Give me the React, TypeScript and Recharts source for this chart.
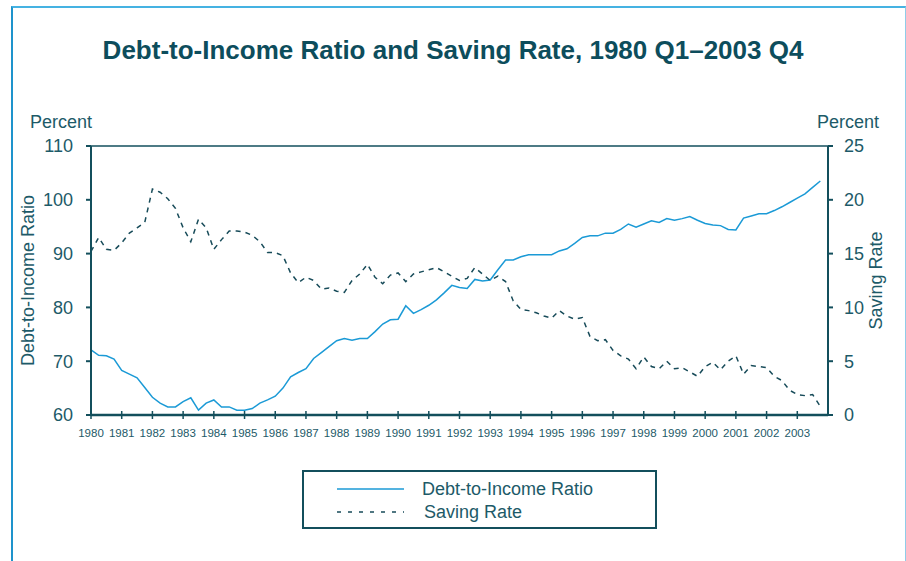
import { LineChart, Line, XAxis, YAxis, ReferenceLine } from "recharts";

// quarterly, 1980 Q1 .. 2003 Q4
const debtToIncome = [
  72.1, 71.1, 71.0, 70.4, 68.3, 67.6, 66.9, 65.1,
  63.3, 62.2, 61.5, 61.5, 62.5, 63.2, 60.9, 62.2,
  62.8, 61.5, 61.5, 60.9, 60.9, 61.2, 62.2, 62.8,
  63.5, 65.0, 67.1, 67.9, 68.6, 70.5, 71.6, 72.7,
  73.8, 74.2, 73.9, 74.2, 74.2, 75.5, 76.9, 77.7,
  77.8, 80.3, 78.9, 79.6, 80.4, 81.4, 82.7, 84.1,
  83.7, 83.5, 85.2, 84.9, 85.1, 87.0, 88.8, 88.8,
  89.4, 89.8, 89.8, 89.8, 89.8, 90.5, 90.9, 91.9,
  93.0, 93.3, 93.3, 93.8, 93.8, 94.5, 95.5, 94.9,
  95.5, 96.1, 95.8, 96.5, 96.2, 96.5, 96.9, 96.2,
  95.6, 95.3, 95.2, 94.5, 94.4, 96.6, 97.0, 97.4,
  97.4, 98.0, 98.7, 99.5, 100.3, 101.1, 102.3, 103.5,
];

const savingRate = [
  15.2, 16.5, 15.4, 15.3, 16.0, 16.9, 17.4, 17.9,
  21.0, 20.7, 20.1, 19.2, 17.4, 16.1, 18.2, 17.4,
  15.4, 16.3, 17.1, 17.1, 17.0, 16.7, 16.1, 15.1,
  15.1, 14.8, 13.2, 12.3, 12.8, 12.5, 11.7, 11.8,
  11.5, 11.4, 12.5, 13.1, 14.0, 12.8, 12.2, 13.0,
  13.2, 12.4, 13.1, 13.3, 13.5, 13.7, 13.3, 12.9,
  12.5, 12.7, 13.7, 13.1, 12.5, 12.9, 12.4, 10.6,
  9.8, 9.7, 9.5, 9.2, 9.0, 9.7, 9.2, 8.9,
  9.05, 7.3, 6.9, 7.0, 6.0, 5.5, 5.2, 4.3,
  5.4, 4.5, 4.3, 5.0, 4.3, 4.4, 4.0, 3.6,
  4.5, 4.9, 4.2, 5.0, 5.5, 3.8, 4.6, 4.5,
  4.4, 3.6, 3.2, 2.3, 1.9, 1.8, 1.9, 0.8,
];

const yearTicks = [
  1980, 1981, 1982, 1983, 1984, 1985, 1986, 1987, 1988, 1989, 1990, 1991,
  1992, 1993, 1994, 1995, 1996, 1997, 1998, 1999, 2000, 2001, 2002, 2003,
];
const leftTicks = [60, 70, 80, 90, 100, 110];
const rightTicks = [0, 5, 10, 15, 20, 25];

const data = debtToIncome.map((v, i) => ({
  t: 1980 + i / 4,
  debt: v,
  saving: savingRate[i],
}));

const FONT = "'Liberation Sans', Arial, sans-serif";
const TITLE = "#0d4d5c";
const TEXT = "#1d5a68";
const AXIS = "#134f5c";
const DEBT = "#1b9ad6";
const SAVING = "#174b59";

const XTick = (props: any) => {
  const { x, y, payload } = props;
  return (
    <g>
      <line x1={x} x2={x} y1={y - 4} y2={y + 4} stroke={AXIS} strokeWidth={1.5} />
      <text x={x} y={y + 22} textAnchor="middle" fontSize={11.5} fill={TEXT} fontFamily={FONT}>
        {payload.value}
      </text>
    </g>
  );
};

const legendItems = [
  { label: "Debt-to-Income Ratio", color: DEBT, dash: undefined },
  { label: "Saving Rate", color: SAVING, dash: "4 7" },
];

export default function App() {
  return (
    <div style={{ position: "absolute", left: 0, top: 0, width: 906, height: 561, background: "#fff", overflow: "hidden", fontFamily: FONT }}>
      {/* outer frame */}
      <div style={{ position: "absolute", left: 11, top: 6, width: 892, height: 620, borderLeft: "2px solid #1e93cc", borderTop: "2px solid #45b2e2", borderRight: "1px solid #8fcde9" }} />

      <div style={{ position: "absolute", left: 0, width: 906, top: 34, textAlign: "center", fontSize: 26, fontWeight: 700, color: TITLE, lineHeight: "32px" }}>
        Debt-to-Income Ratio and Saving Rate, 1980 Q1–2003 Q4
      </div>

      <div style={{ position: "absolute", left: 30, top: 111, fontSize: 18, color: TEXT, lineHeight: "22px" }}>Percent</div>
      <div style={{ position: "absolute", left: 817, top: 111, fontSize: 18, color: TEXT, lineHeight: "22px" }}>Percent</div>

      <div style={{ position: "absolute", left: 0, top: 0 }}>
        <LineChart width={906} height={561} data={data} margin={{ top: 146, right: 0, bottom: 126, left: 0 }}>
          <XAxis
            type="number"
            dataKey="t"
            domain={[1980, 2004]}
            ticks={yearTicks}
            interval={0}
            height={20}
            stroke={AXIS}
            strokeWidth={2.5}
            tickSize={0}
            tickMargin={0}
            tick={<XTick />}
          />
          <YAxis
            yAxisId="left"
            domain={[60, 110]}
            ticks={leftTicks}
            width={91}
            stroke={AXIS}
            strokeWidth={2}
            tickSize={5}
            tickMargin={13}
            tick={{ fill: TEXT, fontSize: 18, fontFamily: FONT }}
            label={{ value: "Debt-to-Income Ratio", angle: -90, position: "insideLeft", dx: 23, dy: 0, fill: TEXT, fontSize: 18, fontFamily: FONT, style: { textAnchor: "middle" } }}
          />
          <YAxis
            yAxisId="right"
            orientation="right"
            domain={[0, 25]}
            ticks={rightTicks}
            width={78}
            stroke={AXIS}
            strokeWidth={2}
            tickSize={5}
            tickMargin={11}
            tick={{ fill: TEXT, fontSize: 18, fontFamily: FONT, textAnchor: "start" }}
            label={{ value: "Saving Rate", angle: -90, position: "insideRight", dx: -25, fill: TEXT, fontSize: 18, fontFamily: FONT, style: { textAnchor: "middle" } }}
          />
          <ReferenceLine yAxisId="left" y={110} stroke={AXIS} strokeWidth={1.5} />
          <Line yAxisId="left" type="linear" dataKey="debt" stroke={DEBT} strokeWidth={1.5} dot={false} isAnimationActive={false} />
          <Line yAxisId="right" type="linear" dataKey="saving" stroke={SAVING} strokeWidth={1.5} strokeDasharray="5 5" dot={false} isAnimationActive={false} />
        </LineChart>
      </div>

      {/* legend */}
      <div style={{ position: "absolute", left: 302, top: 470, width: 351, height: 55, border: `2px solid ${AXIS}` }}>
        {legendItems.map((it, i) => (
          <div key={it.label} style={{ position: "absolute", left: 0, top: 6 + i * 23, height: 22, width: 351 }}>
            <svg width={80} height={22} style={{ position: "absolute", left: 32, top: 0 }}>
              <line x1={1} x2={68} y1={11} y2={11} stroke={it.color} strokeWidth={1.5} strokeDasharray={it.dash} />
            </svg>
            <span style={{ position: "absolute", left: 118 + i * 2, top: 0, fontSize: 18, lineHeight: "22px", color: TEXT, whiteSpace: "nowrap" }}>
              {it.label}
            </span>
          </div>
        ))}
      </div>
    </div>
  );
}
